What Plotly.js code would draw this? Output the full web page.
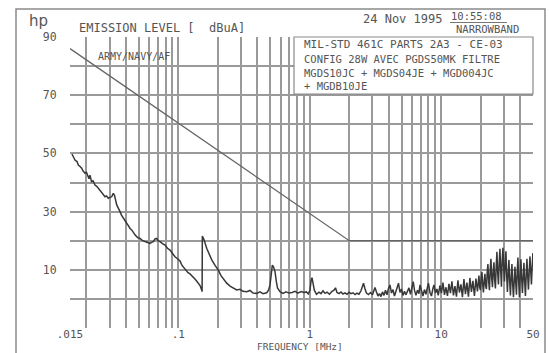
<!DOCTYPE html>
<html>
<head>
<meta charset="utf-8">
<script src="https://cdn.plot.ly/plotly-3.0.1.min.js"></script>
<style>
html,body{margin:0;padding:0;background:#fff;}
#chart{width:549px;height:353px;}
</style>
</head>
<body>
<div id="chart"></div>
<script>
// ---- data ----
const freqMHz = [0.01553,0.01608,0.01637,0.01696,0.01735,0.01788,0.01841,0.01884,0.01951,0.02003,
0.02067,0.02092,0.02129,0.02186,0.02245,0.02324,0.02407,0.02462,0.02537,0.02614,
0.02674,0.0277,0.02844,0.02935,0.03024,0.03115,0.03202,0.0327,0.034,0.03479,
0.03603,0.03698,0.03817,0.03933,0.04051,0.04181,0.04292,0.04423,0.04564,0.04685,
0.04826,0.04937,0.05113,0.05296,0.05582,0.05782,0.06094,0.06256,0.06457,0.06652,
0.06854,0.07011,0.07262,0.07586,0.07925,0.0828,0.0865,0.0904,0.0944,0.09865,
0.1031,0.1068,0.1105,0.1145,0.1186,0.1228,0.1272,0.1317,0.1365,0.1413,
0.1464,0.1502,0.1518,0.1524,0.157,0.1645,0.1713,0.1797,0.1904,0.2017,
0.2114,0.2202,0.2328,0.2475,0.261,0.2784,0.2949,0.311,0.3317,0.3513,
0.3703,0.3952,0.4185,0.4411,0.4709,0.4859,0.4989,0.5095,0.5194,0.5304,
0.5445,0.5571,0.5689,0.5943,0.6264,0.6602,0.6959,0.7334,0.773,0.8147,
0.8587,0.905,0.9454,0.9757,1.005,1.026,1.041,1.059,1.084,1.126,
1.177,1.219,1.262,1.307,1.354,1.414,1.478,1.531,1.571,1.613,
1.671,1.73,1.792,1.856,1.922,1.991,2.062,2.135,2.211,2.289,
2.371,2.455,2.521,2.566,2.633,2.703,2.8,2.9,3.003,3.083,
3.138,3.221,3.307,3.395,3.485,3.578,3.673,3.772,3.872,3.975,
4.081,4.19,4.301,4.416,4.533,4.654,4.736,4.862,4.992,5.124,
5.26,5.4,5.544,5.691,5.843,5.998,6.136,6.266,6.433,6.604,
6.78,6.9,7.083,7.272,7.465,7.664,7.868,8.007,8.22,8.438,
8.663,8.816,9.05,9.291,9.506,9.793,10.05,10.32,10.6,10.88,
11.17,11.47,11.77,12.08,12.41,12.74,13.08,13.42,13.78,14.15,
14.52,14.91,15.31,15.71,16.13,16.56,17.0,17.45,17.92,18.4,
18.89,
19.39,19.65,19.91,20.17,20.44,20.71,20.98,21.26,21.54,21.83,
22.12,22.41,22.7,23.0,23.31,23.62,23.93,24.25,24.57,24.89,
25.22,25.55,25.89,26.23,26.58,26.93,27.29,27.65,28.02,28.39,
28.76,29.14,29.53,29.92,30.32,30.72,31.12,31.53,31.95,32.37,
32.8,33.23,33.67,34.12,34.57,35.03,35.49,35.96,36.44,36.92,
37.41,37.9,38.4,38.91,39.42,39.94,40.47,41.0,41.55,42.1,
42.66,43.22,43.79,44.37,44.96,45.55,46.15,46.76,47.38,48.0,
48.64,49.28,49.94];
const levelDbuA = [49.8,48.5,47.7,47.2,46.0,45.5,44.9,44.0,43.2,43.5,
42.0,41.3,42.5,40.3,40.6,39.1,38.6,38.0,37.5,36.8,
36.2,35.1,35.4,34.6,34.9,35.1,36.3,35.6,32.3,31.5,
30.0,28.8,27.7,26.9,26.0,25.1,24.2,23.7,22.6,22.0,
21.4,21.0,20.8,20.2,19.7,19.5,19.1,19.4,19.7,20.6,
20.8,20.0,19.7,19.0,18.5,17.4,16.8,15.6,14.5,13.8,
13.0,11.5,10.6,10.0,9.0,8.6,8.0,7.2,6.4,5.6,
4.6,3.2,2.5,21.6,20.3,17.4,15.6,13.4,11.5,9.9,
8.0,6.8,5.5,4.4,3.8,3.1,3.3,2.6,2.5,2.9,
2.0,1.9,2.4,1.8,2.1,3.0,4.8,9.0,11.6,11.0,
9.4,6.0,3.8,2.5,1.9,2.4,2.0,2.2,2.6,2.0,
2.5,2.2,2.4,1.7,3.0,6.5,7.3,5.5,3.0,1.6,
2.3,1.8,2.8,1.9,2.3,1.6,2.6,3.0,3.8,2.2,
1.8,2.4,1.7,2.1,1.6,2.3,1.8,2.1,1.5,2.0,
1.6,2.8,4.4,5.4,3.5,2.0,1.5,2.2,1.4,3.2,
3.9,2.4,1.0,1.8,0.8,2.4,1.2,3.0,1.4,3.6,
4.8,2.0,3.2,1.0,2.8,4.2,5.4,2.2,3.4,1.2,
2.6,1.4,3.0,3.8,1.6,4.2,5.9,3.0,1.2,3.0,
1.8,4.8,2.4,1.0,3.2,1.6,4.0,5.4,2.2,1.0,
3.6,4.8,2.0,3.4,1.2,4.6,2.0,5.6,1.4,4.0,
1.0,5.2,2.0,6.0,1.2,4.4,0.8,6.4,2.2,5.0,
0.6,6.8,1.6,5.6,0.8,7.2,2.4,6.2,1.0,7.0,
2.6,
8.0,4.0,3.0,7.0,9.2,5.0,2.2,6.0,8.6,4.4,
3.4,9.0,12.0,6.0,3.0,10.0,13.8,7.0,4.0,9.6,
12.6,6.4,3.6,11.0,16.2,9.0,5.0,12.4,17.2,10.0,
4.2,13.0,17.6,11.0,6.0,12.0,16.4,8.0,2.4,9.0,
13.4,6.0,1.2,7.6,12.0,5.0,0.6,6.0,11.0,6.0,
1.4,9.0,14.2,6.0,0.6,8.0,13.6,7.0,2.0,7.4,
12.4,6.0,1.0,8.0,13.8,8.0,3.2,9.0,14.6,10.0,
5.0,11.0,15.8];
const limitFreqMHz = [0.015, 2.0, 50];
const limitDbuA = [86, 20, 20];
const xTickVals = [0.015,0.02,0.03,0.04,0.05,0.06,0.07,0.08,0.09,
  0.1,0.2,0.3,0.4,0.5,0.6,0.7,0.8,0.9,1,2,3,4,5,6,7,8,9,10,20,30,40,50];
const xTickLabels = {0.015:'.015',0.1:'.1',1:'1',10:'10',50:'50'};
const yTickVals = [-10,0,10,20,30,40,50,60,70,80,90];
const yTickLabels = {10:'10',30:'30',50:'50',70:'70',90:'90'};

// ---- layout helpers (pixel -> paper) ----
const L=70, R=533, T=37, B=328;
const PX = x => (x-L)/(R-L);
const PY = y => (B-y)/(B-T);
const mono = '"DejaVu Sans Mono", "Liberation Mono", monospace';
const txt = '#555';

function ann(text, x, y, size, opts){
  return Object.assign({text:text, xref:'paper', yref:'paper', x:PX(x), y:PY(y),
    xanchor:'left', yanchor:'middle', showarrow:false, align:'left', borderpad:0,
    font:{family:mono, size:size, color:txt}}, opts||{});
}

const traces = [
  {x:freqMHz, y:levelDbuA, type:'scatter', mode:'lines',
   line:{color:'#383838', width:1.5}, hoverinfo:'skip'},
  {x:limitFreqMHz, y:limitDbuA, type:'scatter', mode:'lines',
   line:{color:'#666', width:1.3}, hoverinfo:'skip'}
];

const layout = {
  width:549, height:353,
  margin:{l:L, r:549-R, t:T, b:353-B},
  paper_bgcolor:'#fff', plot_bgcolor:'#fff',
  showlegend:false,
  xaxis:{type:'log', range:[Math.log10(0.015), Math.log10(50)],
    tickmode:'array', tickvals:xTickVals,
    ticktext:xTickVals.map(v => xTickLabels[v] || ''),
    showgrid:true, gridcolor:'#9a9a9a', gridwidth:2,
    zeroline:false, showline:false, ticks:'', ticklabelstandoff:-2,
    tickfont:{family:mono, size:11, color:txt}, fixedrange:true},
  yaxis:{range:[-10,90], tickmode:'array', tickvals:yTickVals,
    ticktext:yTickVals.map(v => yTickLabels[v] || ''),
    showgrid:true, gridcolor:'#9a9a9a', gridwidth:2,
    zeroline:false, showline:false, ticks:'outside', ticklen:10,
    tickcolor:'rgba(0,0,0,0)',
    tickfont:{family:mono, size:11.5, color:txt}, fixedrange:true},
  shapes:[
    {type:'rect', xref:'paper', yref:'paper', x0:PX(16), x1:PX(545), y0:PY(400), y1:PY(9),
     line:{color:'#8a8a8a', width:1.5}, fillcolor:'rgba(0,0,0,0)', layer:'below'},
    {type:'rect', xref:'paper', yref:'paper', x0:PX(294), x1:PX(533), y0:PY(94), y1:PY(37),
     line:{color:'#8a8a8a', width:1.2}, fillcolor:'#fff', layer:'above'},
    {type:'line', xref:'paper', yref:'paper', x0:PX(450), x1:PX(507), y0:PY(22.5), y1:PY(22.5),
     line:{color:'#777', width:1}}
  ],
  annotations:[
    ann('hp', 28, 21, 15, {font:{family:'"DejaVu Sans", sans-serif', size:15, color:txt}}),
    ann('EMISSION LEVEL [  dBuA]', 78, 28, 12),
    ann('24 Nov 1995', 362, 19, 12),
    ann('10:55:08', 450, 15.5, 10.5),
    ann('NARROWBAND', 455, 29, 10.5),
    ann('ARMY/NAVY/AF', 97, 57, 10),
    ann('MIL-STD 461C PARTS 2A3 - CE-03', 303, 44, 11),
    ann('CONFIG 28W AVEC PGDS50MK FILTRE<br>MGDS10JC + MGDS04JE + MGD004JC<br>+ MGDB10JE',
        303, 51.5, 10.5, {yanchor:'top'}),
    ann('FREQUENCY [MHz]', 300, 353, 9.5, {xanchor:'center', yanchor:'bottom'})
  ]
};

Plotly.newPlot('chart', traces, layout, {staticPlot:true, displayModeBar:false});
</script>
</body>
</html>
